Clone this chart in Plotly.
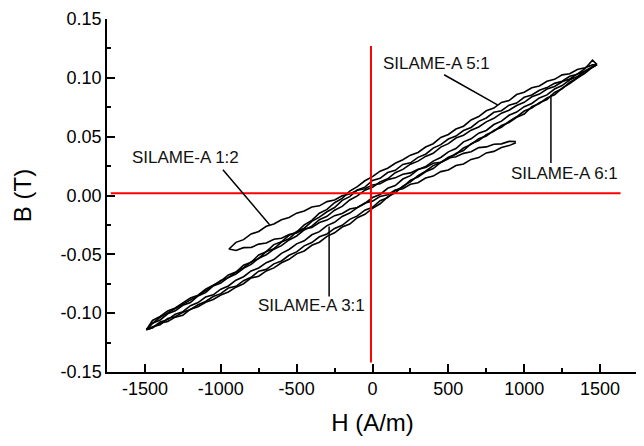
import plotly.graph_objects as go

# ---------------- data ----------------
H_BIG = [-1490, -1450, -1400, -1350, -1300, -1250, -1200, -1150, -1100, -1050,
         -1000, -950, -900, -850, -800, -750, -700, -650, -600, -550,
         -500, -450, -400, -350, -300, -250, -200, -150, -100, -50,
         0, 50, 100, 150, 200, 250, 300, 350, 400, 450,
         500, 550, 600, 650, 700, 750, 800, 850, 900, 950,
         1000, 1050, 1100, 1150, 1200, 1250, 1300, 1350, 1400, 1450, 1480]

# SILAME-A 5:1
B51_UP = [-0.1140, -0.1062, -0.1027, -0.0981, -0.0956, -0.0913, -0.0871, -0.0847, -0.0797, -0.0765,
          -0.0728, -0.0675, -0.0651, -0.0593, -0.0567, -0.0506, -0.0477, -0.0417, -0.0393, -0.0338,
          -0.0311, -0.0249, -0.0211, -0.0151, -0.0118, -0.0061, -0.0025, 0.0037, 0.0076, 0.0125,
          0.0160, 0.0207, 0.0232, 0.0274, 0.0304, 0.0343, 0.0366, 0.0412, 0.0440, 0.0493,
          0.0519, 0.0565, 0.0589, 0.0642, 0.0671, 0.0720, 0.0743, 0.0791, 0.0807, 0.0858,
          0.0877, 0.0915, 0.0931, 0.0971, 0.0987, 0.1025, 0.1035, 0.1071, 0.1086, 0.1110, 0.1112]
B51_LO = [-0.1140, -0.1124, -0.1086, -0.1071, -0.1034, -0.1017, -0.0966, -0.0945, -0.0907, -0.0884,
          -0.0846, -0.0820, -0.0779, -0.0750, -0.0701, -0.0686, -0.0641, -0.0615, -0.0572, -0.0542,
          -0.0496, -0.0471, -0.0423, -0.0397, -0.0347, -0.0317, -0.0268, -0.0243, -0.0189, -0.0160,
          -0.0110, -0.0070, -0.0012, 0.0022, 0.0080, 0.0116, 0.0168, 0.0206, 0.0254, 0.0280,
          0.0326, 0.0351, 0.0404, 0.0434, 0.0482, 0.0505, 0.0553, 0.0580, 0.0630, 0.0669,
          0.0718, 0.0743, 0.0789, 0.0815, 0.0876, 0.0907, 0.0963, 0.1000, 0.1055, 0.1090, 0.1112]

# SILAME-A 6:1
B61_UP = [-0.1140, -0.1086, -0.1035, -0.0997, -0.0958, -0.0924, -0.0887, -0.0851, -0.0810, -0.0770,
          -0.0722, -0.0698, -0.0652, -0.0614, -0.0564, -0.0535, -0.0476, -0.0452, -0.0396, -0.0368,
          -0.0307, -0.0278, -0.0220, -0.0184, -0.0138, -0.0102, -0.0041, -0.0010, 0.0047, 0.0071,
          0.0128, 0.0146, 0.0195, 0.0214, 0.0264, 0.0278, 0.0324, 0.0351, 0.0403, 0.0432,
          0.0480, 0.0505, 0.0552, 0.0578, 0.0630, 0.0659, 0.0707, 0.0721, 0.0768, 0.0785,
          0.0835, 0.0854, 0.0894, 0.0917, 0.0953, 0.0971, 0.1013, 0.1031, 0.1077, 0.1150, 0.1112]
B61_LO = [-0.1140, -0.1115, -0.1098, -0.1046, -0.1030, -0.0993, -0.0969, -0.0929, -0.0901, -0.0859,
          -0.0834, -0.0786, -0.0772, -0.0724, -0.0695, -0.0643, -0.0628, -0.0581, -0.0556, -0.0508,
          -0.0479, -0.0428, -0.0400, -0.0351, -0.0327, -0.0280, -0.0253, -0.0203, -0.0173, -0.0125,
          -0.0100, -0.0044, -0.0018, 0.0044, 0.0072, 0.0131, 0.0157, 0.0202, 0.0229, 0.0281,
          0.0311, 0.0358, 0.0382, 0.0440, 0.0467, 0.0516, 0.0546, 0.0595, 0.0620, 0.0665,
          0.0692, 0.0754, 0.0782, 0.0830, 0.0856, 0.0912, 0.0951, 0.0998, 0.1039, 0.1090, 0.1112]

# SILAME-A 3:1
B31_UP = [-0.1140, -0.1085, -0.1058, -0.1006, -0.0980, -0.0933, -0.0909, -0.0854, -0.0826, -0.0769,
          -0.0744, -0.0696, -0.0667, -0.0619, -0.0585, -0.0533, -0.0503, -0.0456, -0.0426, -0.0378,
          -0.0344, -0.0293, -0.0260, -0.0206, -0.0177, -0.0125, -0.0093, -0.0038, -0.0003, 0.0045,
          0.0070, 0.0116, 0.0142, 0.0194, 0.0222, 0.0266, 0.0292, 0.0332, 0.0359, 0.0411,
          0.0441, 0.0488, 0.0512, 0.0555, 0.0582, 0.0626, 0.0656, 0.0700, 0.0725, 0.0765,
          0.0792, 0.0839, 0.0862, 0.0905, 0.0926, 0.0967, 0.0991, 0.1033, 0.1059, 0.1095, 0.1112]
B31_LO = [-0.1140, -0.1124, -0.1075, -0.1055, -0.1009, -0.0987, -0.0936, -0.0910, -0.0863, -0.0844,
          -0.0796, -0.0769, -0.0720, -0.0690, -0.0641, -0.0616, -0.0571, -0.0544, -0.0492, -0.0459,
          -0.0411, -0.0385, -0.0334, -0.0307, -0.0256, -0.0228, -0.0178, -0.0149, -0.0103, -0.0068,
          -0.0017, 0.0009, 0.0061, 0.0085, 0.0140, 0.0169, 0.0219, 0.0246, 0.0292, 0.0323,
          0.0371, 0.0399, 0.0456, 0.0482, 0.0530, 0.0553, 0.0603, 0.0632, 0.0682, 0.0709,
          0.0755, 0.0782, 0.0829, 0.0855, 0.0905, 0.0934, 0.0983, 0.1011, 0.1056, 0.1088, 0.1112]

# SILAME-A 1:2
H_12 = [-946, -900, -850, -800, -750, -700, -650, -600, -550, -500,
        -450, -400, -350, -300, -250, -200, -150, -100, -50, 0,
        50, 100, 150, 200, 250, 300, 350, 400, 450, 500,
        550, 600, 650, 700, 750, 800, 850, 900, 945]
B12_UP = [-0.0455, -0.0398, -0.0375, -0.0327, -0.0306, -0.0262, -0.0242, -0.0206, -0.0186, -0.0150,
          -0.0131, -0.0098, -0.0088, -0.0052, -0.0038, -0.0002, 0.0012, 0.0044, 0.0057, 0.0090,
          0.0099, 0.0135, 0.0150, 0.0181, 0.0192, 0.0223, 0.0237, 0.0274, 0.0283, 0.0318,
          0.0330, 0.0358, 0.0372, 0.0407, 0.0413, 0.0435, 0.0439, 0.0460, 0.0459]
B12_LO = [-0.0455, -0.0467, -0.0443, -0.0442, -0.0413, -0.0403, -0.0372, -0.0363, -0.0331, -0.0318,
          -0.0284, -0.0272, -0.0230, -0.0209, -0.0171, -0.0153, -0.0115, -0.0102, -0.0064, -0.0048,
          -0.0008, 0.0006, 0.0046, 0.0058, 0.0096, 0.0108, 0.0149, 0.0165, 0.0203, 0.0217,
          0.0255, 0.0268, 0.0307, 0.0322, 0.0362, 0.0375, 0.0408, 0.0424, 0.0449]

# reference (red) lines
VLINE_H = [-10, -10]
VLINE_B = [-0.142, 0.127]
HLINE_H = [-1725, 1635]
HLINE_B = [0.002, 0.002]

# tick labels
X_TICKS = [-1500, -1000, -500, 0, 500, 1000, 1500]
X_TICKTEXT = ["-1500", "-1000", "-500", "0", "500", "1000", "1500"]
Y_TICKS = [-0.15, -0.10, -0.05, 0.0, 0.05, 0.10, 0.15]
Y_TICKTEXT = ["-0.15", "-0.10", "-0.05", "0.00", "0.05", "0.10", "0.15"]

# labels: text, text position, pointer start, pointer end
LABELS = ["SILAME-A 5:1", "SILAME-A 6:1", "SILAME-A 1:2", "SILAME-A 3:1"]
LABEL_H = [423, 1264, -1230, -402]
LABEL_B = [0.112, 0.0185, 0.0321, -0.0937]
PTR_H0 = [472, 1176, -986, -286]
PTR_B0 = [0.1026, 0.0276, 0.0219, -0.0858]
PTR_H1 = [824, 1176, -678, -286]
PTR_B1 = [0.0771, 0.0857, -0.0248, -0.0263]

# ---------------- figure ----------------
fig = go.Figure()

def loop(h, up, lo):
    xs = list(reversed(h)) + list(h)
    ys = list(reversed(up)) + list(lo)
    return xs, ys

for h, up, lo in [(H_BIG, B51_UP, B51_LO), (H_BIG, B61_UP, B61_LO),
                  (H_BIG, B31_UP, B31_LO), (H_12, B12_UP, B12_LO)]:
    xs, ys = loop(h, up, lo)
    fig.add_trace(go.Scatter(x=xs, y=ys, mode="lines",
                             line=dict(color="black", width=1.6),
                             showlegend=False, hoverinfo="skip"))

fig.add_trace(go.Scatter(x=VLINE_H, y=VLINE_B, mode="lines",
                         line=dict(color="#ff0000", width=2), showlegend=False))
fig.add_trace(go.Scatter(x=HLINE_H, y=HLINE_B, mode="lines",
                         line=dict(color="#ff0000", width=2), showlegend=False))

FONT = "Liberation Sans, Arial, sans-serif"
for i in range(len(LABELS)):
    fig.add_trace(go.Scatter(x=[PTR_H0[i], PTR_H1[i]], y=[PTR_B0[i], PTR_B1[i]],
                             mode="lines", line=dict(color="black", width=1.5),
                             showlegend=False, hoverinfo="skip"))
    fig.add_annotation(x=LABEL_H[i], y=LABEL_B[i], text=LABELS[i], showarrow=False,
                       font=dict(family=FONT, size=17, color="#111111"),
                       xanchor="center", yanchor="middle")

axis_font = dict(family=FONT, size=18, color="black")
title_font = dict(family=FONT, size=24, color="black")
fig.update_xaxes(range=[-1750, 1750], tickvals=X_TICKS, ticktext=X_TICKTEXT,
                 ticks="inside", ticklen=8, tickwidth=1.5, tickcolor="black",
                 showline=True, linewidth=1.5, linecolor="black", mirror=False,
                 showgrid=False, zeroline=False, tickfont=axis_font, automargin=False,
                 minor=dict(dtick=250, tick0=0, ticks="inside", ticklen=4, tickwidth=1.5,
                            tickcolor="black", showgrid=False),
                 title=dict(text="H (A/m)", font=title_font, standoff=16))
fig.update_yaxes(range=[-0.15, 0.15], tickvals=Y_TICKS, ticktext=Y_TICKTEXT,
                 ticks="inside", ticklen=8, tickwidth=1.5, tickcolor="black",
                 showline=True, linewidth=1.5, linecolor="black", mirror=False,
                 showgrid=False, zeroline=False, tickfont=axis_font, automargin=False,
                 minor=dict(dtick=0.025, tick0=0, ticks="inside", ticklen=4, tickwidth=1.5,
                            tickcolor="black", showgrid=False),
                 title=dict(text="B (T)", font=title_font, standoff=22))

# page body has an 8px margin, so the figure is 8px smaller than the window
fig.update_layout(width=636, height=438, margin=dict(l=99, r=6, t=11, b=74),
                  plot_bgcolor="white", paper_bgcolor="white", showlegend=False)

fig.write_html("out.html")
